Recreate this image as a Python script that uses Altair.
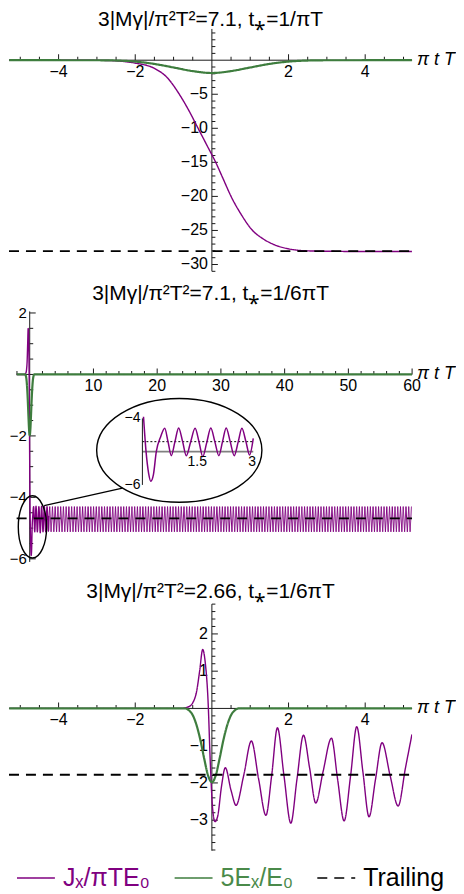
import altair as alt
import numpy as np
import pandas as pd

PURPLE = "#800080"
GREEN = "#3e7d3e"
GREEN_TEXT = "#4a8a4a"
INK = "#1a1a1a"
FONT = "Liberation Sans"
TICK_FS = 16

SERIES = ["Jₓ/πTE₀", "5Eₓ/E₀", "Trailing"]

# ---------------- Panel 1 ----------------
p1_title = "3|Mγ|/π²T²=7.1, t⁎=1/πT"
p1_x_domain = [-5.294, 5.224]
p1_y_domain = [-31.16, 7.52]          # plot area incl. room for the panel title
p1_axis_y = [-31.0, 4.59]
p1_j_t = [-5.29, -3.0, -2.5, -2.03, -1.5, -1.16, -0.85, -0.6, -0.36, -0.12, 0.1, 0.3,
          0.5, 0.77, 1.06, 1.3, 1.63, 2.0, 2.5, 3.0, 4.0, 5.22]
p1_j = [0.0, -0.02, -0.1, -0.4, -1.2, -2.6, -5.0, -7.4, -10.0, -12.6, -15.0, -17.5,
        -20.0, -22.7, -25.0, -26.1, -27.1, -27.7, -28.0, -28.05, -28.1, -28.1]
p1_e_t = [-5.29, -3.0, -2.5, -2.0, -1.5, -1.0, -0.5, 0.0, 0.5, 1.0, 1.5, 2.0, 2.5, 3.0, 5.22]
p1_e = [0.0, -0.01, -0.05, -0.2, -0.55, -1.07, -1.6, -1.88, -1.6, -1.07, -0.55, -0.2, -0.05, -0.01, 0.0]
p1_trailing = -28.05
p1_xticks = [-4, -2, 2, 4]
p1_xtick_labels = ["−4", "−2", "2", "4"]
p1_yticks = [-5, -10, -15, -20, -25, -30]
p1_ytick_labels = ["−5", "−10", "−15", "−20", "−25", "−30"]

# ---------------- Panel 2 ----------------
p2_title = "3|Mγ|/π²T²=7.1, t⁎=1/6πT"
p2_x_domain = [-3.25, 60.0]
p2_y_domain = [-6.224, 3.32]
p2_axis_x = [-2.05, 60.0]
p2_axis_y = [-6.1, 2.05]
p2_spike_t = [-2.05, -0.8, -0.6, -0.5, -0.4, -0.32, -0.24, -0.17, -0.1, -0.04, 0.0]
p2_spike_j = [0.0, 0.0, 0.05, 0.15, 0.45, 1.0, 1.5, 1.2, 0.2, -1.5, -3.0]
inset_t = [0.03, 0.1, 0.17, 0.23, 0.3, 0.38, 0.5, 0.61, 0.7, 0.79, 0.89, 0.99, 1.1, 1.2,
           1.32, 1.44, 1.55, 1.65, 1.76, 1.87, 1.98, 2.09, 2.19, 2.29, 2.4, 2.51, 2.62,
           2.72, 2.83, 2.93, 3.03]
inset_j = [-3.95, -5.0, -5.65, -5.89, -5.7, -5.0, -4.55, -4.3, -4.7, -5.12, -4.7, -4.29,
           -4.7, -5.12, -4.7, -4.3, -4.72, -5.15, -4.72, -4.29, -4.7, -5.12, -4.7, -4.29,
           -4.7, -5.12, -4.7, -4.3, -4.7, -5.1, -4.6]
# dense oscillation band continuing to t=60 (peak / trough levels and half period)
p2_band_first_peak = 3.14
p2_band_half_period = 0.215
p2_band_end = 60.0
p2_band_levels = [-4.3, -5.12]
p2_e_t = [-2.05, -0.7, -0.6, -0.5, -0.4, -0.3, -0.2, -0.1, 0.0, 0.1, 0.2, 0.3, 0.4, 0.5, 0.6, 0.7, 60.0]
p2_e = [0.0, 0.0, -0.05, -0.18, -0.45, -0.85, -1.35, -1.8, -1.98, -1.8, -1.35, -0.85, -0.45,
        -0.18, -0.05, 0.0, 0.0]
p2_trailing = -4.68
p2_xticks = [10, 20, 30, 40, 50, 60]
p2_xtick_labels = ["10", "20", "30", "40", "50", "60"]
p2_yticks = [2, -2, -4, -6]
p2_ytick_labels = ["2", "−2", "−4", "−6"]
inset_trailing = -4.7
inset_axis_level = -5.0
inset_xticks = [1.5, 3]
inset_xtick_labels = ["1.5", "3"]
inset_yticks = [-4, -6]
inset_ytick_labels = ["−4", "−6"]
# callout ellipses (centres in panel-2 data units) and connector
big_ellipse_center = [23.47, -2.47]
small_ellipse_center = [0.43, -4.96]
connector = [2.27, -4.27, 14.55, -3.70]

# ---------------- Panel 3 ----------------
p3_title = "3|Mγ|/π²T²=2.66, t⁎=1/6πT"
p3_x_domain = [-5.294, 5.224]
p3_y_domain = [-3.83, 3.83]
p3_axis_y = [-3.82, 2.80]
p3_j_t = [-5.29, -0.8, -0.6, -0.5, -0.4, -0.32, -0.24, -0.17, -0.1, -0.04, 0.02, 0.08, 0.15,
          0.25, 0.35, 0.5, 0.63, 0.83, 1.03, 1.22, 1.41, 1.56, 1.71, 1.88, 2.06, 2.22, 2.39,
          2.55, 2.71, 2.9, 3.12, 3.28, 3.45, 3.62, 3.78, 3.94, 4.1, 4.27, 4.44, 4.65, 4.86,
          5.05, 5.22]
p3_j = [0.0, 0.0, 0.05, 0.15, 0.45, 1.0, 1.58, 1.2, 0.2, -1.5, -2.7, -3.04, -2.9, -2.1,
        -1.59, -2.2, -2.6, -1.8, -0.875, -1.9, -2.87, -1.8, -0.52, -1.8, -3.08, -1.9, -0.72,
        -1.6, -2.54, -1.7, -0.8, -1.9, -3.02, -1.8, -0.49, -1.7, -2.91, -1.9, -0.92, -1.8,
        -2.62, -1.6, -0.7]
p3_e_t = [-5.29, -0.7, -0.6, -0.5, -0.4, -0.3, -0.2, -0.1, 0.0, 0.1, 0.2, 0.3, 0.4, 0.5, 0.6, 0.7, 5.22]
p3_e = [0.0, 0.0, -0.05, -0.18, -0.45, -0.85, -1.35, -1.8, -1.98, -1.8, -1.35, -0.85, -0.45,
        -0.18, -0.05, 0.0, 0.0]
p3_trailing = -1.78
p3_xticks = [-4, -2, 2, 4]
p3_xtick_labels = ["−4", "−2", "2", "4"]
p3_yticks = [2, 1, -1, -2, -3]
p3_ytick_labels = ["2", "1", "−1", "−2", "−3"]

# ---------------- shared encodings ----------------
LEGEND = alt.Legend(
    title=None, orient="none", legendX=7, legendY=851, direction="horizontal",
    labelFont=FONT, labelFontSize=25, labelOffset=7, columnPadding=20, padding=0,
    labelLimit=400, symbolType="stroke", symbolSize=1444, symbolStrokeWidth=1.6,
    labelColor={"expr": "datum.label == 'Trailing' ? 'black' : (datum.label == '5Eₓ/E₀' ? '"
                + GREEN_TEXT + "' : '" + PURPLE + "')"},
)
COLOR = alt.Color("series:N", scale=alt.Scale(domain=SERIES, range=[PURPLE, GREEN, "black"]), legend=LEGEND)
DASH = alt.StrokeDash("series:N", scale=alt.Scale(domain=SERIES, range=[[1, 0], [1, 0], [10, 7]]), legend=LEGEND)


def xy(xs, ys, xf="x", yf="y"):
    return dict(x=alt.X(f"{xf}:Q", scale=xs, axis=None), y=alt.Y(f"{yf}:Q", scale=ys, axis=None))


def series_line(t, v, name, xs, ys, width, interp="monotone"):
    df = pd.DataFrame({"x": t, "y": v, "series": name})
    return alt.Chart(df).mark_line(strokeWidth=width, interpolate=interp, clip=True).encode(
        **xy(xs, ys), color=COLOR, strokeDash=DASH)


def axes(xs, ys, xext, yext, xmaj, xmin_, ymaj, ymin_, xlab, ylab, ylab_fs, ylab_dx):
    lines = alt.Chart(pd.DataFrame({"x": [xext[0], 0], "x2": [xext[1], 0],
                                    "y": [0, yext[0]], "y2": [0, yext[1]]})).mark_rule(
        color=INK, strokeWidth=1).encode(**xy(xs, ys), x2="x2:Q", y2="y2:Q")
    xt_major = alt.Chart(pd.DataFrame({"x": xmaj, "y": 0})).mark_tick(
        orient="vertical", size=6, thickness=1, color=INK, opacity=1, yOffset=-3).encode(**xy(xs, ys))
    xt_minor = alt.Chart(pd.DataFrame({"x": xmin_, "y": 0})).mark_tick(
        orient="vertical", size=3.5, thickness=1, color=INK, opacity=1, yOffset=-1.75).encode(**xy(xs, ys))
    yt_major = alt.Chart(pd.DataFrame({"x": 0, "y": ymaj})).mark_tick(
        orient="horizontal", size=6, thickness=1, color=INK, opacity=1, xOffset=3).encode(**xy(xs, ys))
    yt_minor = alt.Chart(pd.DataFrame({"x": 0, "y": ymin_})).mark_tick(
        orient="horizontal", size=3.5, thickness=1, color=INK, opacity=1, xOffset=1.75).encode(**xy(xs, ys))
    xl = alt.Chart(pd.DataFrame({"x": xmaj, "y": 0, "label": xlab})).mark_text(
        font=FONT, fontSize=TICK_FS, color="black", baseline="middle", align="center", dy=12).encode(
        **xy(xs, ys), text="label:N")
    yl = alt.Chart(pd.DataFrame({"x": 0, "y": ymaj, "label": ylab})).mark_text(
        font=FONT, fontSize=ylab_fs, color="black", baseline="middle", align="right", dx=ylab_dx).encode(
        **xy(xs, ys), text="label:N")
    name = alt.Chart(pd.DataFrame({"x": [xext[1]], "y": [0], "label": ["π t T"]})).mark_text(
        font=FONT, fontSize=18, fontStyle="italic", color="black", baseline="middle", align="left",
        dx=5).encode(**xy(xs, ys), text="label:N")
    return [lines, xt_minor, xt_major, yt_minor, yt_major, xl, yl, name]


def minor(lo, hi, step, majors):
    vals = np.round(np.arange(lo, hi + 1e-9, step), 6)
    return [float(v) for v in vals if abs(v) > 1e-9 and not any(abs(v - m) < 1e-9 for m in majors)]


def title_mark(text, xs, ys, xdom, ytop, dy):
    df = pd.DataFrame({"x": [(xdom[0] + xdom[1]) / 2], "y": [ytop], "label": [text]})
    return alt.Chart(df).mark_text(font=FONT, fontSize=21, color="black", align="center",
                                   baseline="alphabetic", dy=dy).encode(**xy(xs, ys), text="label:N")


def trailing(level, xext, xs, ys):
    return series_line([xext[0], xext[1]], [level, level], "Trailing", xs, ys, 1.8, "linear")


# ---------------- Panel 1 chart ----------------
xs1 = alt.Scale(domain=p1_x_domain, nice=False, zero=False)
ys1 = alt.Scale(domain=p1_y_domain, nice=False, zero=False)
panel1 = alt.layer(
    title_mark(p1_title, xs1, ys1, p1_x_domain, p1_axis_y[1], -2.5),
    *axes(xs1, ys1, p1_x_domain, p1_axis_y, p1_xticks, minor(-5, 5, 0.5, p1_xticks),
          p1_yticks, minor(-31, 4, 1, p1_yticks), p1_xtick_labels, p1_ytick_labels, 16, -4),
    series_line(p1_j_t, p1_j, SERIES[0], xs1, ys1, 1.4),
    series_line(p1_e_t, p1_e, SERIES[1], xs1, ys1, 2.2),
    trailing(p1_trailing, p1_x_domain, xs1, ys1),
).properties(width=404, height=264)

# ---------------- Panel 2 chart ----------------
xs2 = alt.Scale(domain=p2_x_domain, nice=False, zero=False)
ys2 = alt.Scale(domain=p2_y_domain, nice=False, zero=False)
band_t = np.arange(p2_band_first_peak, p2_band_end, p2_band_half_period)
band_y = np.where(np.arange(len(band_t)) % 2 == 0, p2_band_levels[0], p2_band_levels[1])
band_t = [inset_t[-1]] + [float(v) for v in band_t]
band_y = [inset_j[-1]] + [float(v) for v in band_y]

BIG_ELLIPSE = "M -1 0 A 1 0.628 0 1 1 1 0 A 1 0.628 0 1 1 -1 0 Z"
SMALL_ELLIPSE = "M -0.455 0 A 0.455 1 0 1 1 0.455 0 A 0.455 1 0 1 1 -0.455 0 Z"

big_ell = alt.Chart(pd.DataFrame({"x": [big_ellipse_center[0]], "y": [big_ellipse_center[1]]})).mark_point(
    shape=BIG_ELLIPSE, size=27423, filled=False, stroke="black", strokeWidth=1.4, opacity=1).encode(**xy(xs2, ys2))
small_ell = alt.Chart(pd.DataFrame({"x": [small_ellipse_center[0]], "y": [small_ellipse_center[1]]})).mark_point(
    shape=SMALL_ELLIPSE, size=3894, filled=False, stroke="black", strokeWidth=1.4, opacity=1).encode(**xy(xs2, ys2))
conn = alt.Chart(pd.DataFrame({"x": [connector[0]], "y": [connector[1]],
                               "x2": [connector[2]], "y2": [connector[3]]})).mark_rule(
    color="black", strokeWidth=1.3).encode(**xy(xs2, ys2), x2="x2:Q", y2="y2:Q")

main2 = alt.layer(
    title_mark(p2_title, xs2, ys2, p2_x_domain, p2_axis_y[1], -11.2),
    *axes(xs2, ys2, p2_axis_x, p2_axis_y, p2_xticks, minor(-2, 60, 2, p2_xticks),
          p2_yticks, minor(-6, 2, 0.5, p2_yticks), p2_xtick_labels, p2_ytick_labels, 15, -3),
    series_line(p2_spike_t + inset_t, p2_spike_j + inset_j, SERIES[0], xs2, ys2, 1.4),
    series_line(band_t, band_y, SERIES[0], xs2, ys2, 1.0, "linear"),
    series_line(p2_e_t, p2_e, SERIES[1], xs2, ys2, 2.2),
    trailing(p2_trailing, p2_axis_x, xs2, ys2),
    conn, big_ell, small_ell,
)

xsi = alt.Scale(domain=[0, 3], range=[133.7, 243.7], nice=False, zero=False)
ysi = alt.Scale(domain=[-6, -4], range=[213, 146.3], nice=False, zero=False)
inset_vaxis = alt.Chart(pd.DataFrame({"x": [0], "y": [-6], "y2": [-4]})).mark_rule(
    color=INK, strokeWidth=1).encode(**xy(xsi, ysi), y2="y2:Q")
inset_haxis = alt.Chart(pd.DataFrame({"x": [0], "x2": [3.03], "y": [inset_axis_level]})).mark_rule(
    color="#808080", strokeWidth=1.8).encode(**xy(xsi, ysi), x2="x2:Q")
inset_dots = alt.Chart(pd.DataFrame({"x": [0], "x2": [3.03], "y": [inset_trailing]})).mark_rule(
    color="black", strokeWidth=1, strokeDash=[2, 2]).encode(**xy(xsi, ysi), x2="x2:Q")
inset_curve = alt.Chart(pd.DataFrame({"x": inset_t, "y": inset_j})).mark_line(
    color=PURPLE, strokeWidth=1.5, interpolate="monotone").encode(**xy(xsi, ysi))
inset_xl = alt.Chart(pd.DataFrame({"x": inset_xticks, "y": inset_axis_level, "label": inset_xtick_labels})).mark_text(
    font=FONT, fontSize=14, color="black", baseline="middle", align="center", dy=10).encode(
    **xy(xsi, ysi), text="label:N")
inset_yl = alt.Chart(pd.DataFrame({"x": 0, "y": inset_yticks, "label": inset_ytick_labels})).mark_text(
    font=FONT, fontSize=14, color="black", baseline="middle", align="right", dx=-2).encode(
    **xy(xsi, ysi), text="label:N")
inset = alt.layer(inset_haxis, inset_dots, inset_vaxis, inset_curve, inset_xl, inset_yl)

panel2 = alt.layer(main2, inset).resolve_scale(x="independent", y="independent").properties(
    width=404, height=294)

# ---------------- Panel 3 chart ----------------
xs3 = alt.Scale(domain=p3_x_domain, nice=False, zero=False)
ys3 = alt.Scale(domain=p3_y_domain, nice=False, zero=False)
panel3 = alt.layer(
    title_mark(p3_title, xs3, ys3, p3_x_domain, p3_axis_y[1], -6.5),
    *axes(xs3, ys3, p3_x_domain, p3_axis_y, p3_xticks, minor(-5, 5, 0.5, p3_xticks),
          p3_yticks, minor(-3.8, 2.8, 0.2, p3_yticks), p3_xtick_labels, p3_ytick_labels, 16, -4),
    series_line(p3_j_t, p3_j, SERIES[0], xs3, ys3, 1.4),
    series_line(p3_e_t, p3_e, SERIES[1], xs3, ys3, 2.2),
    trailing(p3_trailing, p3_x_domain, xs3, ys3),
).properties(width=404, height=286)

chart = alt.vconcat(panel1, panel2, panel3, spacing=0, bounds="flush", padding=0).resolve_scale(
    color="shared", strokeDash="shared").resolve_legend(color="shared", strokeDash="shared").configure_view(
    stroke=None)

chart.save("out.html", embed_options={"renderer": "svg", "actions": False})
